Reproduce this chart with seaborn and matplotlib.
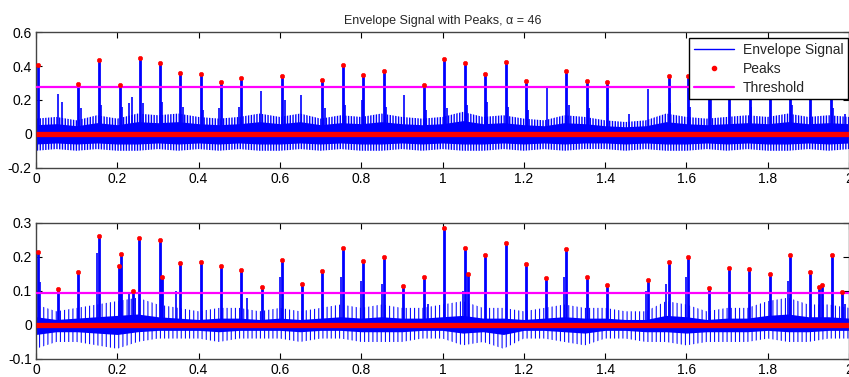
import numpy as np
import pandas as pd
import matplotlib
matplotlib.use("Agg")
import matplotlib.pyplot as plt
import seaborn as sns
from matplotlib.lines import Line2D
from matplotlib.ticker import FormatStrFormatter

sns.set_theme(style="ticks")
plt.rcParams["font.family"] = ["Liberation Sans", "DejaVu Sans"]

# %% data
alpha_val = 46
thr_top = 0.278
thr_bot = 0.093

# top panel peaks (time, value); last ones sit behind the legend
peak_t_top = [0.006, 0.104, 0.155, 0.207, 0.257, 0.306, 0.355, 0.406, 0.456, 0.505,
              0.606, 0.703, 0.756, 0.805, 0.857, 0.955, 1.004, 1.056, 1.105, 1.157,
              1.206, 1.305, 1.356, 1.405, 1.556, 1.605, 1.655, 1.706, 1.756, 1.806,
              1.855, 1.904, 1.955]
peak_v_top = [0.406, 0.294, 0.435, 0.288, 0.447, 0.418, 0.359, 0.353, 0.306, 0.329,
              0.341, 0.318, 0.406, 0.347, 0.371, 0.288, 0.441, 0.418, 0.353, 0.424,
              0.312, 0.371, 0.314, 0.306, 0.341, 0.341, 0.33, 0.35, 0.36, 0.34,
              0.38, 0.35, 0.37]

# tall noise spikes that stay under the threshold (top)
spike_t_top = [0.055, 0.063, 0.110, 0.160, 0.212, 0.229, 0.235, 0.262, 0.311, 0.362,
               0.411, 0.45, 0.50, 0.553, 0.612, 0.653, 0.710, 0.760, 0.802, 0.862,
               0.905, 0.960, 1.010, 1.06, 1.11, 1.16, 1.21, 1.256, 1.31, 1.36,
               1.46, 1.505, 1.56, 1.61, 1.66, 1.76, 1.86, 1.96, 1.99]
spike_v_top = [0.237, 0.19, 0.15, 0.17, 0.16, 0.18, 0.22, 0.18, 0.19, 0.16,
               0.14, 0.15, 0.16, 0.255, 0.20, 0.231, 0.15, 0.17, 0.20, 0.16,
               0.23, 0.14, 0.15, 0.17, 0.19, 0.16, 0.14, 0.276, 0.17, 0.15,
               0.12, 0.267, 0.18, 0.16, 0.21, 0.16, 0.17, 0.15, 0.12]

# bottom panel peaks
peak_t_bot = [0.006, 0.055, 0.104, 0.156, 0.205, 0.208, 0.239, 0.254, 0.306, 0.311,
              0.355, 0.406, 0.456, 0.505, 0.557, 0.606, 0.655, 0.703, 0.756, 0.805,
              0.857, 0.904, 0.955, 1.004, 1.056, 1.062, 1.105, 1.157, 1.206, 1.255,
              1.305, 1.356, 1.405, 1.505, 1.556, 1.605, 1.656, 1.706, 1.755, 1.806,
              1.856, 1.905, 1.927, 1.934, 1.957, 1.982]
peak_v_bot = [0.215, 0.106, 0.156, 0.262, 0.174, 0.209, 0.100, 0.256, 0.250, 0.141,
              0.183, 0.186, 0.174, 0.162, 0.112, 0.192, 0.120, 0.158, 0.227, 0.189,
              0.199, 0.115, 0.142, 0.283, 0.227, 0.148, 0.206, 0.241, 0.179, 0.138,
              0.223, 0.141, 0.117, 0.132, 0.185, 0.200, 0.109, 0.168, 0.165, 0.150,
              0.205, 0.155, 0.111, 0.117, 0.205, 0.098]

spike_t_bot = [0.009, 0.15, 0.23, 0.345, 0.52, 0.60, 0.75, 0.80, 0.85, 0.965,
               1.05, 1.30, 1.50, 1.55, 1.60, 1.85, 1.99]
spike_v_bot = [0.125, 0.21, 0.09, 0.10, 0.08, 0.14, 0.14, 0.13, 0.12, 0.06,
               0.10, 0.14, 0.10, 0.12, 0.14, 0.13, 0.06]

# noise band extents every 0.05 s
band_t = np.linspace(0, 2, 41)
top_hi = [0.09, 0.10, 0.08, 0.11, 0.09, 0.12, 0.11, 0.12, 0.10, 0.09, 0.10, 0.12, 0.10, 0.12,
          0.09, 0.11, 0.10, 0.12, 0.10, 0.09, 0.10, 0.13, 0.10, 0.11, 0.09, 0.08, 0.11, 0.10,
          0.08, 0.07, 0.08, 0.12, 0.10, 0.09, 0.10, 0.11, 0.10, 0.12, 0.10, 0.11, 0.10]
top_lo = [-0.10, -0.09, -0.10, -0.09, -0.10, -0.10, -0.09, -0.10, -0.09, -0.10, -0.09, -0.10,
          -0.10, -0.09, -0.10, -0.09, -0.10, -0.10, -0.09, -0.10, -0.09, -0.10, -0.10, -0.09,
          -0.10, -0.09, -0.10, -0.09, -0.09, -0.10, -0.09, -0.10, -0.10, -0.09, -0.10, -0.09,
          -0.10, -0.10, -0.09, -0.10, -0.09]
bot_hi = [0.06, 0.04, 0.05, 0.06, 0.07, 0.08, 0.06, 0.05, 0.04, 0.05, 0.05, 0.04, 0.05, 0.04,
          0.05, 0.06, 0.05, 0.06, 0.05, 0.05, 0.06, 0.07, 0.05, 0.05, 0.04, 0.05, 0.06, 0.05,
          0.05, 0.04, 0.04, 0.07, 0.06, 0.04, 0.05, 0.05, 0.07, 0.08, 0.06, 0.06, 0.05]
bot_lo = [-0.07, -0.05, -0.05, -0.06, -0.07, -0.05, -0.04, -0.04, -0.04, -0.05, -0.04, -0.04,
          -0.04, -0.05, -0.04, -0.04, -0.05, -0.05, -0.05, -0.04, -0.04, -0.06, -0.05, -0.07,
          -0.04, -0.04, -0.05, -0.06, -0.04, -0.04, -0.05, -0.05, -0.06, -0.05, -0.05, -0.05,
          -0.04, -0.05, -0.05, -0.04, -0.04]

x_ticks = [0, 0.2, 0.4, 0.6, 0.8, 1.0, 1.2, 1.4, 1.6, 1.8, 2.0]
y_ticks_top = [-0.2, 0, 0.2, 0.4, 0.6]
y_ticks_bot = [-0.1, 0, 0.1, 0.2, 0.3]

# %% figure
fig = plt.figure(figsize=(8.49, 3.77), dpi=100)
ax1 = fig.add_axes([36 / 849, 1 - 167.7 / 377, 813 / 849, 135.4 / 377])
ax2 = fig.add_axes([36 / 849, 1 - 359 / 377, 813 / 849, 136.3 / 377])


def draw_panel(ax, hi, lo, pk_t, pk_v, sp_t, sp_v, thr, ylim, yticks, hatch, hatch_lw, core):
    hi = np.array(hi)
    lo = np.array(lo)
    # noise texture: vertical hatch plus a solid core around zero
    plt.rcParams["hatch.linewidth"] = hatch_lw
    ax.fill_between(band_t, lo, hi, facecolor="none", edgecolor="blue",
                    hatch=hatch, linewidth=0, zorder=1)
    ax.fill_between(band_t, lo * core, hi * core, color="blue", linewidth=0, zorder=1)
    # spikes of the envelope
    ax.vlines(sp_t, 0, sp_v, color="blue", lw=1.2, zorder=2)
    ax.vlines(pk_t, 0, pk_v, color="blue", lw=2.0, zorder=2)
    # zero-valued peak samples form the thick red line
    ax.plot([0, 2], [0, 0], color="red", lw=3.8, zorder=3, solid_capstyle="butt")
    peaks = pd.DataFrame({"t": pk_t, "v": pk_v})
    sns.scatterplot(data=peaks, x="t", y="v", ax=ax, color="red", s=10,
                    marker="o", edgecolor="red", linewidth=0.4, zorder=4, legend=False)
    thr_df = pd.DataFrame({"t": [0, 2], "v": [thr, thr]})
    sns.lineplot(data=thr_df, x="t", y="v", ax=ax, color="#ff00ff", lw=1.6, zorder=3)

    ax.set_xlim(0, 2)
    ax.set_ylim(*ylim)
    ax.set_xticks(x_ticks)
    ax.set_yticks(yticks)
    ax.xaxis.set_major_formatter(FormatStrFormatter("%g"))
    ax.yaxis.set_major_formatter(FormatStrFormatter("%g"))
    ax.set_xlabel("")
    ax.set_ylabel("")
    ax.tick_params(direction="in", length=4, width=0.8, top=True, right=True,
                   labelsize=10, colors="black", pad=3)
    for sp in ax.spines.values():
        sp.set_visible(True)
        sp.set_color("#444444")
        sp.set_linewidth(1.0)


draw_panel(ax1, top_hi, top_lo, peak_t_top, peak_v_top, spike_t_top, spike_v_top,
           thr_top, (-0.2, 0.6), y_ticks_top, "||||||", 1.0, 0.6)
draw_panel(ax2, bot_hi, bot_lo, peak_t_bot, peak_v_bot, spike_t_bot, spike_v_bot,
           thr_bot, (-0.1, 0.3), y_ticks_bot, "||||", 0.75, 0.4)

ax1.set_title("Envelope Signal with Peaks, \u03b1 = %d" % alpha_val, fontsize=9, pad=6)

handles = [Line2D([], [], color="blue", lw=1),
           Line2D([], [], color="red", marker="o", ms=3, ls="none"),
           Line2D([], [], color="#ff00ff", lw=1.6)]
leg = ax1.legend(handles, ["Envelope Signal", "Peaks", "Threshold"], loc="upper right",
                 bbox_to_anchor=(0.999, 0.958), fontsize=10, frameon=True, fancybox=False,
                 framealpha=1, edgecolor="black", handlelength=2.9, labelspacing=0.35,
                 borderpad=0.35, handletextpad=0.6, borderaxespad=0)
leg.get_frame().set_linewidth(1.0)
leg.set_zorder(10)

fig.savefig("out.png", dpi=100)
